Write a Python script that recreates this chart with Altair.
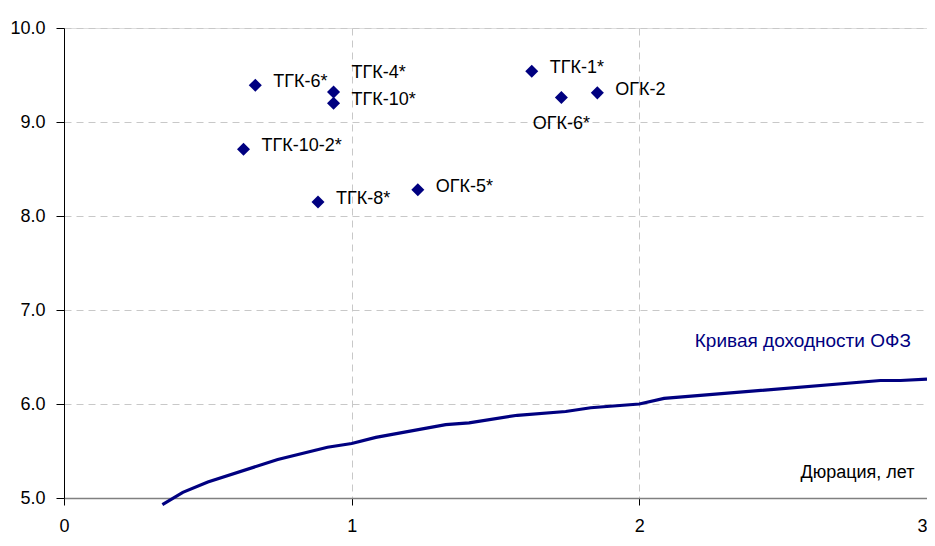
import altair as alt
import pandas as pd

# Bonds (duration, yield)
names = ["ТГК-6*", "ТГК-4*", "ТГК-10*", "ТГК-10-2*", "ТГК-8*", "ОГК-5*", "ТГК-1*", "ОГК-6*", "ОГК-2"]
durations = [0.665, 0.937, 0.937, 0.624, 0.883, 1.230, 1.626, 1.729, 1.854]
yields = [9.39, 9.32, 9.20, 8.71, 8.15, 8.28, 9.54, 9.26, 9.31]

# OFZ yield curve
curve_x = [0.342, 0.413, 0.50, 0.743, 0.916, 1.00, 1.084, 1.327, 1.408, 1.576, 1.744, 1.831, 2.00, 2.086, 2.838, 2.908, 3.00]
curve_y = [4.93, 5.06, 5.17, 5.41, 5.54, 5.58, 5.645, 5.78, 5.80, 5.88, 5.92, 5.96, 6.00, 6.06, 6.25, 6.25, 6.265]

curve_label = ["Кривая доходности ОФЗ"]
curve_label_x = [2.944]
curve_label_y = [6.67]

right_labels = ["ТГК-6*", "ТГК-10*", "ТГК-10-2*", "ТГК-8*", "ОГК-5*", "ТГК-1*", "ОГК-2"]
above_labels = ["ТГК-4*"]
below_labels = ["ОГК-6*"]

pts = pd.DataFrame({"name": names, "x": durations, "y": yields})
crv = pd.DataFrame({"x": curve_x, "y": curve_y})
lbl = pd.DataFrame({"text": curve_label, "x": curve_label_x, "y": curve_label_y})

FONT = "Liberation Sans"
FS = 18
NAVY = "#000080"

xscale = alt.Scale(domain=[0, 3], nice=False, zero=False)
yscale = alt.Scale(domain=[5, 10], nice=False, zero=False)

xaxis = alt.Axis(
    values=[0, 1, 2, 3], format="d", title="Дюрация, лет",
    titleX=850, titleY=-26, titleAlign="right", titleBaseline="middle",
    titleFont=FONT, titleFontSize=FS, titleFontWeight="normal", titleColor="black",
    labelFont=FONT, labelFontSize=FS, labelColor="black", labelPadding=12,
    labelAlign={"expr": "datum.value == 3 ? 'right' : 'center'"},
    tickSize=7, tickColor="black", domainColor="#808080", domainWidth=1.5,
    grid=True, gridColor="#c8c8c8", gridDash=[7, 5], gridWidth=1,
)
yaxis = alt.Axis(
    values=[5, 6, 7, 8, 9, 10], format=".1f", title=None,
    labelFont=FONT, labelFontSize=FS, labelColor="black", labelPadding=11,
    tickSize=8, tickColor="black", domainColor="black", domainWidth=1,
    grid=True, gridColor="#c8c8c8", gridDash=[7, 5], gridWidth=1,
)

base_pts = alt.Chart(pts)

line = alt.Chart(crv).mark_line(color=NAVY, strokeWidth=3.2).encode(
    x=alt.X("x:Q", scale=xscale, axis=xaxis),
    y=alt.Y("y:Q", scale=yscale, axis=yaxis),
    order="x:Q",
)

points = base_pts.mark_point(shape="diamond", filled=True, color=NAVY, size=170, opacity=1).encode(
    x=alt.X("x:Q", scale=xscale), y=alt.Y("y:Q", scale=yscale)
)

txt_right = base_pts.transform_filter(
    alt.FieldOneOfPredicate(field="name", oneOf=right_labels)
).mark_text(align="left", baseline="middle", dx=18, dy=-3, font=FONT, fontSize=FS, color="black").encode(
    x="x:Q", y="y:Q", text="name:N"
)
txt_above = base_pts.transform_filter(
    alt.FieldOneOfPredicate(field="name", oneOf=above_labels)
).mark_text(align="left", baseline="middle", dx=18, dy=-19, font=FONT, fontSize=FS, color="black").encode(
    x="x:Q", y="y:Q", text="name:N"
)
txt_below = base_pts.transform_filter(
    alt.FieldOneOfPredicate(field="name", oneOf=below_labels)
).mark_text(align="center", baseline="middle", dx=0, dy=26, font=FONT, fontSize=FS, color="black").encode(
    x="x:Q", y="y:Q", text="name:N"
)

curve_text = alt.Chart(lbl).mark_text(align="right", baseline="middle", font=FONT, fontSize=19, color=NAVY).encode(
    x="x:Q", y="y:Q", text="text:N"
)

chart = alt.layer(line, points, txt_right, txt_above, txt_below, curve_text).properties(
    width=863, height=470,
    autosize=alt.AutoSizeParams(type="none"),
    padding={"left": 56, "top": 20, "right": 0, "bottom": 40},
).configure_view(stroke=None).configure(background="white")

chart.save("out.html", embed_options={"renderer": "svg", "actions": False})
